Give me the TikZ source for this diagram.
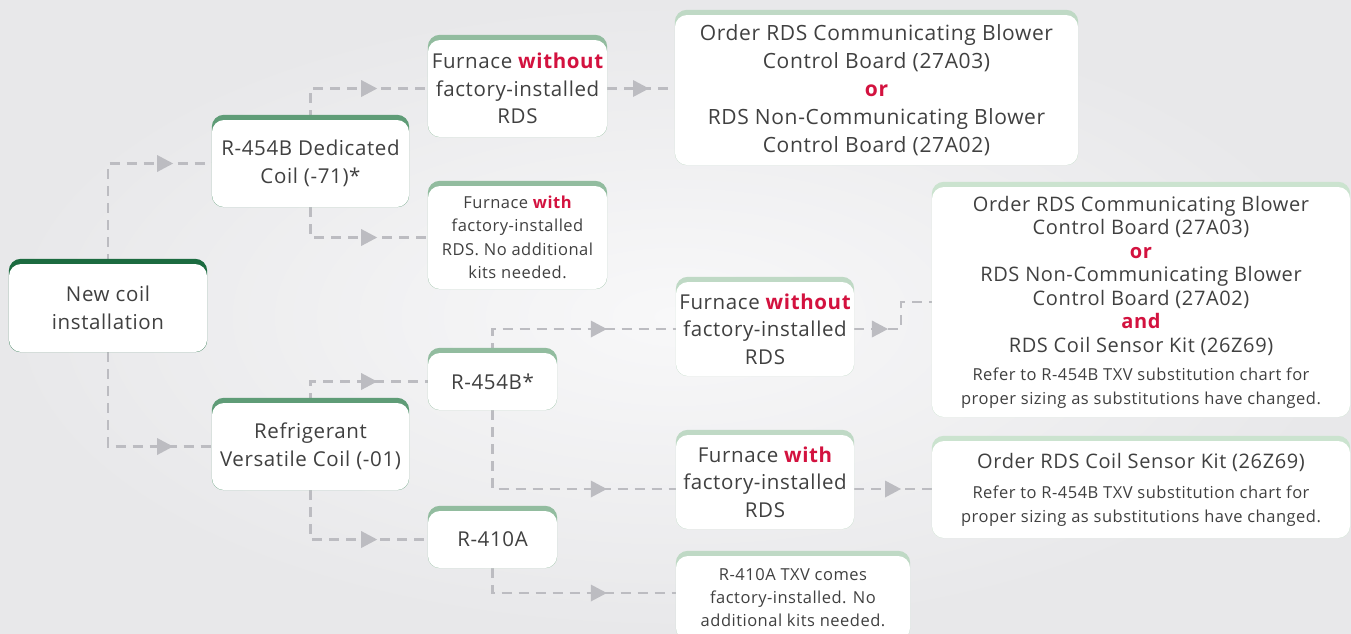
\documentclass[tikz,border=0pt]{standalone}
\usepackage{fontspec}
\setmainfont{Open Sans}[LetterSpace=3]
\usetikzlibrary{calc}
\definecolor{bgin}{HTML}{F8F8F9}
\definecolor{bgout}{HTML}{E8E8EA}
\definecolor{conncol}{HTML}{BCBCC1}
\definecolor{txt}{HTML}{404040}
\definecolor{hlred}{HTML}{D3123F}
\definecolor{bandA}{HTML}{1C6B40}
\definecolor{bandB}{HTML}{5F9C77}
\definecolor{bandC}{HTML}{92BC9F}
\definecolor{bandD}{HTML}{BFD9C5}
\definecolor{bandE}{HTML}{CBE3CF}
\newcommand\redb[1]{{\bfseries\color{hlred}#1}}
\newcommand\notetxt[1]{{\fontsize{16.5}{22}\selectfont #1}}
\pgfdeclarelayer{bg}\pgfdeclarelayer{band}\pgfsetlayers{bg,band,main}
\begin{document}
\begin{tikzpicture}[x=1pt,y=-1pt,
  card/.style={fill=white, rounded corners=12pt, text=txt, align=center, inner sep=0pt, font=\fontsize{20.5}{27.5}\selectfont},
  smallcard/.style={card, font=\fontsize{16.5}{23.5}\selectfont},
  conn/.style={draw=conncol, line width=2.5pt, dash pattern=on 10pt off 7pt},
  tip/.pic={\fill[conncol] (-8,-8.5) -- (8,0) -- (-8,8.5) -- cycle;}
]
\useasboundingbox (0,0) rectangle (1351,633);

\node[card, minimum width=198, minimum height=88] (new) at (108,308) {New coil\\installation};
\node[card, minimum width=197, minimum height=87] (ded) at (310.5,163.5) {R-454B Dedicated\\Coil (-71)*};
\node[card, minimum width=197, minimum height=87] (ref) at (310.5,446.5) {Refrigerant\\Versatile Coil (-01)};
\node[card, minimum width=179, minimum height=97] (fwo1) at (517.5,88.5) {Furnace \redb{without}\\factory-installed\\RDS};
\node[smallcard, minimum width=179, minimum height=103] (fw1) at (517.5,237.5) {Furnace \redb{with}\\factory-installed\\RDS. No additional\\kits needed.};
\node[card, minimum width=403, minimum height=150, font=\fontsize{21}{28}\selectfont] (ord1) at (876.5,90) {Order RDS Communicating Blower\\Control Board (27A03)\\\redb{or}\\RDS Non-Communicating Blower\\Control Board (27A02)};
\node[card, minimum width=129, minimum height=57] (r454) at (492.5,381.5) {R-454B*};
\node[card, minimum width=129, minimum height=57] (r410) at (492.5,539.5) {R-410A};
\node[card, minimum width=178, minimum height=94] (fwo2) at (765,329) {Furnace \redb{without}\\factory-installed\\RDS};
\node[card, minimum width=178, minimum height=94] (fw2) at (765,482) {Furnace \redb{with}\\factory-installed\\RDS};
\node[smallcard, minimum width=234, minimum height=84, font=\fontsize{16.5}{23}\selectfont] (txv) at (793,598) {R-410A TXV comes\\factory-installed. No\\additional kits needed.};
\node[card, minimum width=418, minimum height=230, font=\fontsize{20}{23.5}\selectfont] (big) at (1141,302) {Order RDS Communicating Blower\\Control Board (27A03)\\\redb{or}\\RDS Non-Communicating Blower\\Control Board (27A02)\\\redb{and}\\RDS Coil Sensor Kit (26Z69)\\[5pt]\notetxt{Refer to R-454B TXV substitution chart for}\\\notetxt{proper sizing as substitutions have changed.}};
\node[card, minimum width=418, minimum height=97, font=\fontsize{20}{23.5}\selectfont] (small) at (1141,489.5) {Order RDS Coil Sensor Kit (26Z69)\\[7pt]\notetxt{Refer to R-454B TXV substitution chart for}\\\notetxt{proper sizing as substitutions have changed.}};

\begin{pgfonlayer}{band}
\foreach \n/\c in {new/bandA, ded/bandB, ref/bandB, fwo1/bandC, fw1/bandC, r454/bandC, r410/bandC, ord1/bandD, fwo2/bandD, fw2/bandD, txv/bandD, big/bandE, small/bandE}
  {\fill[\c, rounded corners=12pt] ([yshift=5pt]\n.north west) rectangle (\n.south east);}
\end{pgfonlayer}

\begin{pgfonlayer}{bg}
\shade[inner color=bgin, outer color=bgout] (0,0) rectangle (1351,633);
\draw[conn] (new.north) |- (ded.west);
\draw[conn] (new.south) |- (ref.west);
\draw[conn] (ded.north) |- (fwo1.west);
\draw[conn] (ded.south) |- (fw1.west);
\draw[conn] (fwo1.east) -- (fwo1.east -| ord1.west);
\draw[conn] (ref.north) |- (r454.west);
\draw[conn] (ref.south) |- (r410.west);
\draw[conn] (r454.north) |- (fwo2.west);
\draw[conn] (r454.south) |- ([yshift=-7pt]fw2.west);
\draw[conn] (r410.south) |- ([yshift=5pt]txv.west);
\coordinate (knee) at (901,0);
\draw[conn] (fwo2.east) -- (fwo2.east -| knee) |- (big.west);
\draw[conn] ([yshift=-7pt]fw2.east) -- ([yshift=-7pt]fw2.east -| small.west);
\pic at ($(new.north |- ded.west)!0.55!(ded.west)$) {tip};
\pic at ($(new.south |- ref.west)!0.55!(ref.west)$) {tip};
\pic at ($(ded.north |- fwo1.west)!0.5!(fwo1.west)$) {tip};
\pic at ($(ded.south |- fw1.west)!0.5!(fw1.west)$) {tip};
\pic at ($(fwo1.east)!0.5!(fwo1.east -| ord1.west)$) {tip};
\pic at ($(ref.north |- r454.west)!0.5!(r454.west)$) {tip};
\pic at ($(ref.south |- r410.west)!0.5!(r410.west)$) {tip};
\pic at ($(r454.north |- fwo2.west)!0.58!(fwo2.west)$) {tip};
\pic at ($([yshift=-7pt]r454.south |- fw2.west)!0.58!([yshift=-7pt]fw2.west)$) {tip};
\pic at ($([yshift=5pt]r454.south |- txv.west)!0.58!([yshift=5pt]txv.west)$) {tip};
\pic at ($(fwo2.east)!0.55!(fwo2.east -| knee)$) {tip};
\pic at ($([yshift=-7pt]fw2.east)!0.5!([yshift=-7pt]fw2.east -| small.west)$) {tip};
\end{pgfonlayer}
\end{tikzpicture}
\end{document}
